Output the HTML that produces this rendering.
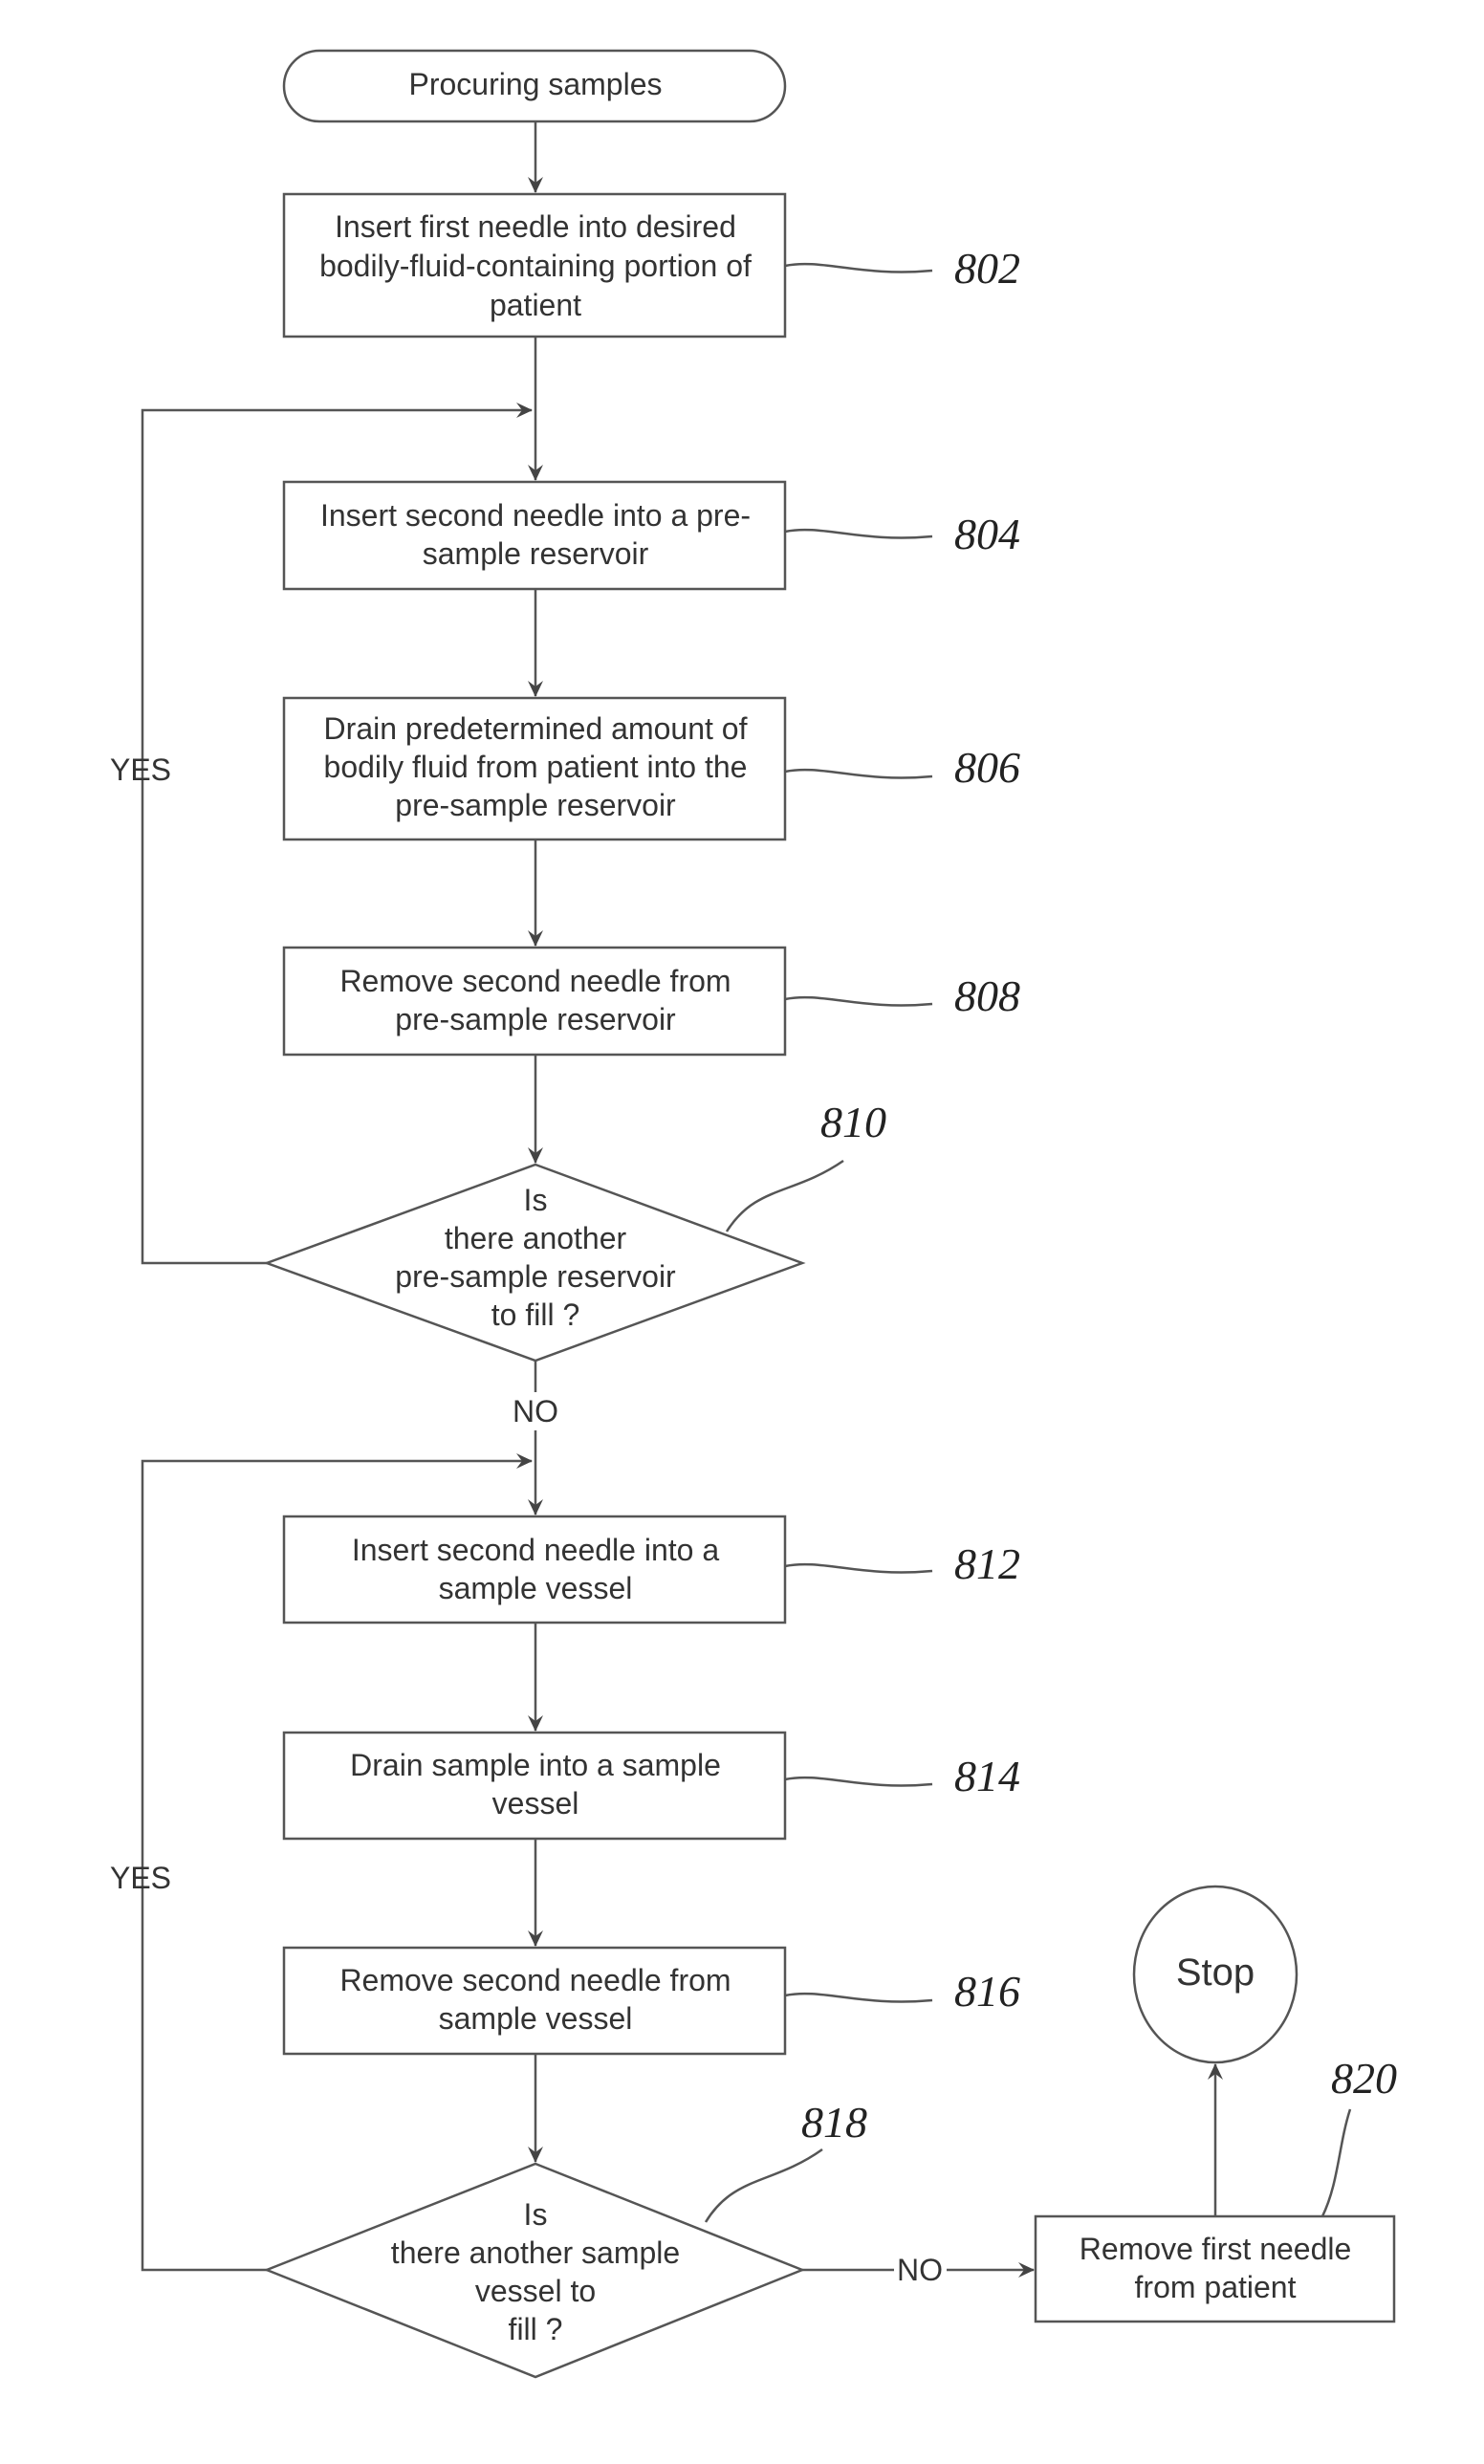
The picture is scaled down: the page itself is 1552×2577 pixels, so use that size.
<!DOCTYPE html>
<html><head><meta charset="utf-8"><style>
html,body{margin:0;padding:0;background:#fff}
svg{display:block}
text{font-family:"Liberation Sans",sans-serif;font-size:32px;fill:#333;text-anchor:middle}
.n{font-family:"Liberation Serif",serif;font-style:italic;font-size:46px;fill:#222;text-anchor:start}
</style></head><body>
<svg width="1552" height="2577" viewBox="0 0 1552 2577" xmlns="http://www.w3.org/2000/svg">
<defs>
<marker id="a" markerWidth="18" markerHeight="18" refX="16" refY="9" orient="auto" markerUnits="userSpaceOnUse"><path d="M0,1 L17,9 L0,17 L6,9 Z" fill="#444"/></marker>
</defs>
<g fill="none" stroke="#555" stroke-width="2.5">
<rect x="297" y="53" width="524" height="74" rx="37"/>
<rect x="297" y="203" width="524" height="149"/>
<rect x="297" y="504" width="524" height="112"/>
<rect x="297" y="730" width="524" height="148"/>
<rect x="297" y="991" width="524" height="112"/>
<polygon points="560,1218 839,1321 560,1423 279,1321"/>
<line x1="560" y1="127" x2="560" y2="201" marker-end="url(#a)"/>
<line x1="560" y1="352" x2="560" y2="502" marker-end="url(#a)"/>
<polyline points="279,1321 149,1321 149,429 556,429" marker-end="url(#a)"/>
<line x1="560" y1="616" x2="560" y2="728" marker-end="url(#a)"/>
<line x1="560" y1="878" x2="560" y2="989" marker-end="url(#a)"/>
<line x1="560" y1="1103" x2="560" y2="1216" marker-end="url(#a)"/>
<line x1="560" y1="1423" x2="560" y2="1456"/>
<path d="M821,278 C860,270 900,290 975,283"/>
<path d="M821,556 C860,548 900,568 975,561"/>
<path d="M821,807 C860,799 900,819 975,812"/>
<path d="M821,1045 C860,1037 900,1057 975,1050"/>
<path d="M760,1288 C790,1240 830,1250 882,1214"/>
</g>
<g transform="translate(0,-7)">
<g fill="none" stroke="#555" stroke-width="2.5">
<rect x="297" y="1593" width="524" height="111"/>
<rect x="297" y="1819" width="524" height="111"/>
<rect x="297" y="2044" width="524" height="111"/>
<polygon points="560,2270 839,2381 560,2493 279,2381"/>
<rect x="1083" y="2325" width="375" height="110"/>
<ellipse cx="1271" cy="2072" rx="85" ry="92"/>
<line x1="560" y1="1503" x2="560" y2="1591" marker-end="url(#a)"/>
<polyline points="279,2381 149,2381 149,1535 556,1535" marker-end="url(#a)"/>
<line x1="560" y1="1704" x2="560" y2="1817" marker-end="url(#a)"/>
<line x1="560" y1="1930" x2="560" y2="2042" marker-end="url(#a)"/>
<line x1="560" y1="2155" x2="560" y2="2268" marker-end="url(#a)"/>
<line x1="839" y1="2381" x2="935" y2="2381"/>
<line x1="990" y1="2381" x2="1081" y2="2381" marker-end="url(#a)"/>
<line x1="1271" y1="2325" x2="1271" y2="2166" marker-end="url(#a)"/>
<path d="M821,1645 C860,1637 900,1657 975,1650"/>
<path d="M821,1868 C860,1860 900,1880 975,1873"/>
<path d="M821,2094 C860,2086 900,2106 975,2099"/>
<path d="M738,2331 C768,2282 808,2292 860,2255"/>
<path d="M1383,2325 C1400,2290 1400,2250 1412,2213"/>
</g>
<text x="560" y="1639">Insert second needle into a</text>
<text x="560" y="1679">sample vessel</text>
<text x="560" y="1864">Drain sample into a sample</text>
<text x="560" y="1904">vessel</text>
<text x="560" y="2089">Remove second needle from</text>
<text x="560" y="2129">sample vessel</text>
<text x="560" y="2334">Is</text>
<text x="560" y="2374">there another sample</text>
<text x="560" y="2414">vessel to</text>
<text x="560" y="2454">fill ?</text>
<text x="962" y="2392">NO</text>
<text x="1271" y="2370">Remove first needle</text>
<text x="1271" y="2410">from patient</text>
<text x="1271" y="2083" style="font-size:40px">Stop</text>
<text x="147" y="1982">YES</text>
<text class="n" x="998" y="1658">812</text>
<text class="n" x="998" y="1880">814</text>
<text class="n" x="998" y="2105">816</text>
<text class="n" x="838" y="2242">818</text>
<text class="n" x="1392" y="2196">820</text>
</g>
<text x="560" y="99">Procuring samples</text>
<text x="560" y="248">Insert first needle into desired</text>
<text x="560" y="289">bodily-fluid-containing portion of</text>
<text x="560" y="330">patient</text>
<text x="560" y="550">Insert second needle into a pre-</text>
<text x="560" y="590">sample reservoir</text>
<text x="560" y="773">Drain predetermined amount of</text>
<text x="560" y="813">bodily fluid from patient into the</text>
<text x="560" y="853">pre-sample reservoir</text>
<text x="560" y="1037">Remove second needle from</text>
<text x="560" y="1077">pre-sample reservoir</text>
<text x="560" y="1266">Is</text>
<text x="560" y="1306">there another</text>
<text x="560" y="1346">pre-sample reservoir</text>
<text x="560" y="1386">to fill ?</text>
<text x="560" y="1487">NO</text>
<text x="147" y="816">YES</text>
<text class="n" x="998" y="296">802</text>
<text class="n" x="998" y="574">804</text>
<text class="n" x="998" y="818">806</text>
<text class="n" x="998" y="1057">808</text>
<text class="n" x="858" y="1189">810</text>
</svg>
</body></html>
